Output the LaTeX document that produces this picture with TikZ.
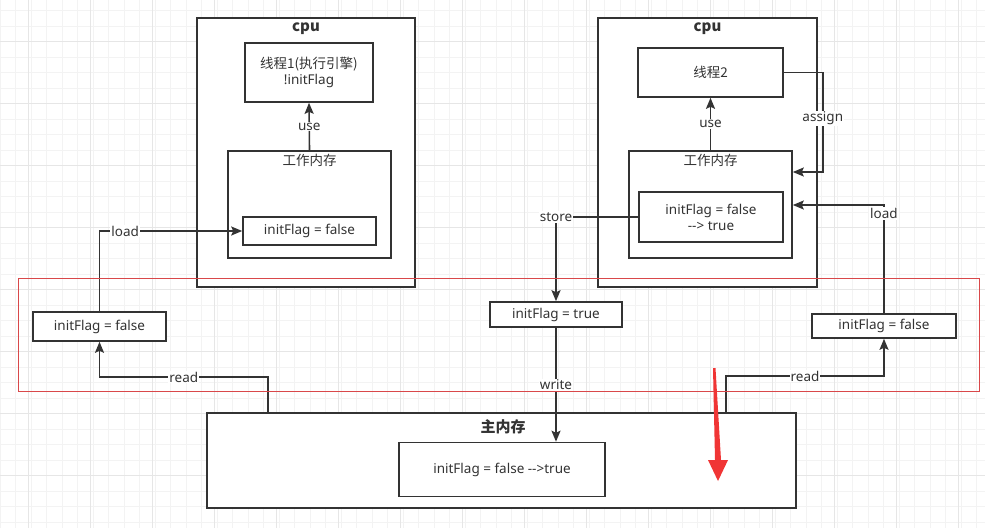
\documentclass[tikz,border=0pt]{standalone}
\usepackage{fontspec}
\setmainfont{Noto Sans}
\newfontfamily\cjk{Noto Sans CJK SC}
\usetikzlibrary{arrows.meta}
\definecolor{ink}{HTML}{333333}
\definecolor{gridminor}{HTML}{F3F3F3}
\definecolor{gridmajor}{HTML}{E6E6E6}
\definecolor{redline}{HTML}{D9484A}
\definecolor{redarrow}{HTML}{F03535}

\begin{document}
\begin{tikzpicture}
  [x=1pt, y=-1pt, font=\fontsize{13.5}{16}\selectfont,
   box/.style={draw=ink, line width=1.6pt, fill=white, inner sep=0pt, align=center, text=ink},
   title/.style={font=\fontsize{15}{17}\selectfont\bfseries\cjk, text=ink},
   sub/.style={font=\fontsize{13.5}{16}\selectfont\cjk, text=ink},
   arr/.style={draw=ink, line width=1.6pt, -{Stealth[length=11pt,width=9pt,inset=2pt]}},
   lbl/.style={fill=white, inner sep=1pt, text=ink}]
	\useasboundingbox (0,0) rectangle (985,528);
	% background grid
	\begin{scope}
	\clip (0,0) rectangle (985,528);
	\fill[white] (0,0) rectangle (985,528);
	\foreach \i in {0,...,64} \draw[gridminor, line width=0.6pt] (\i*15.5,0) -- (\i*15.5,528);
	\foreach \i in {0,...,34} \draw[gridminor, line width=0.6pt] (0,10.5+\i*15.5) -- (985,10.5+\i*15.5);
	\foreach \i in {0,...,15} \draw[gridmajor, line width=0.6pt] (28+\i*62,0) -- (28+\i*62,528);
	\foreach \i in {0,...,8} \draw[gridmajor, line width=0.6pt] (0,41+\i*62) -- (985,41+\i*62);
	\end{scope}

	% cpu 1
	\node [box, minimum width=218pt, minimum height=269pt, name=cpua] at (306,152.5) {};
	\node [title, name=cpuat] at (306,29) {cpu};
	\node [box, minimum width=128pt, minimum height=59pt, name=thra] at (309,72.5) {{\cjk 线程1(执行引擎)}\\!initFlag};
	\node [box, minimum width=163pt, minimum height=107pt, name=wma] at (309.5,204.5) {};
	\node [sub, name=wmat] at (309.5,160) {工作内存};
	\node [box, minimum width=133pt, minimum height=28pt, name=flaga] at (309.5,231) {initFlag = false};

	% cpu 2
	\node [box, minimum width=219pt, minimum height=269pt, name=cpub] at (707.5,152.5) {};
	\node [title, name=cpubt] at (707.5,29) {cpu};
	\node [box, minimum width=145pt, minimum height=49pt, name=thrb] at (710.5,72.5) {\cjk 线程2};
	\node [box, minimum width=163pt, minimum height=107pt, name=wmb] at (710.5,204.5) {};
	\node [sub, name=wmbt] at (710.5,160) {工作内存};
	\node [box, minimum width=144pt, minimum height=50pt, name=flagb] at (711,217) {initFlag = false\\-{}-> true};

	% copies on the bus
	\node [box, minimum width=133pt, minimum height=29pt, name=left] at (99.5,326.5) {initFlag = false};
	\node [box, minimum width=132pt, minimum height=25pt, name=mid] at (556,314.5) {initFlag = true};
	\node [box, minimum width=144pt, minimum height=24pt, name=right] at (884,326) {initFlag = false};

	% main memory
	\node [box, minimum width=589pt, minimum height=95pt, name=mem] at (501.5,460.5) {};
	\node [title, name=memt] at (503,427) {主内存};
	\node [box, minimum width=206pt, minimum height=54pt, name=memflag] at (502,469.5) {initFlag = false -{}->true};

	% connectors
	\draw [arr] (wma.north) -- node [lbl] {use} (thra.south);
	\draw [arr] (wmb.north) -- node [lbl] {use} (thrb.south);
	\draw [arr] (left.north) |- node [lbl, pos=0.59] {load} (flaga.west);
	\draw [arr] (thrb.east) -- ++(39,0) |- node [lbl, pos=0.23] {assign} ([yshift=32.5pt]wmb.east);
	\draw [arr] (right.north) |- node [lbl, pos=0.46] {load} ([yshift=-0.5pt]wmb.east);
	\draw [arr] (flagb.west) -| node [lbl] {store} (mid.north);
	\draw [arr] (mid.south) -- node [lbl] {write} (mid.south |- memflag.north);
	\draw [arr] ([xshift=-233.5pt]mem.north) -- ++(0,-35) -| node [lbl, pos=0.25] {read} (left.south);
	\draw [arr] ([xshift=224.5pt]mem.north) -- ++(0,-36) -| node [lbl, pos=0.25] {read} (right.south);

	% highlight
	\draw [redline, line width=0.8pt] (18,278) rectangle (979,391);
	\fill [redarrow] (713,368) -- (715.5,368) -- (721,460) -- (728,460) -- (718,481) -- (708,460) -- (715,460) -- cycle;
\end{tikzpicture}
\end{document}
